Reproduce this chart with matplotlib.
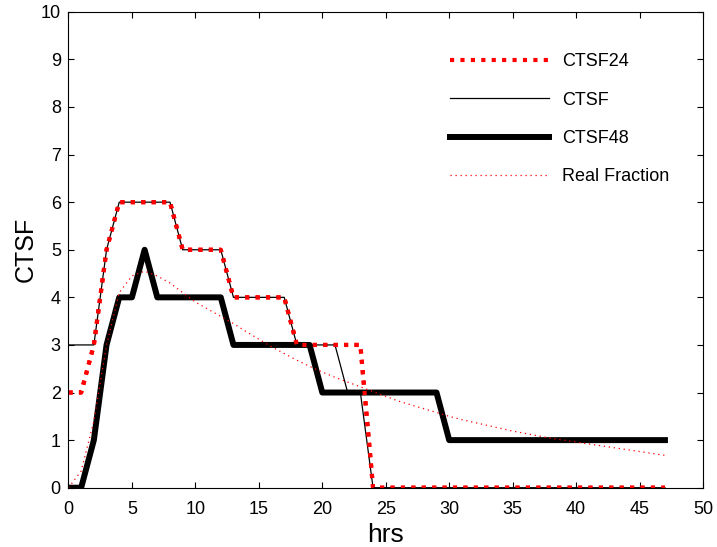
import matplotlib
matplotlib.use("Agg")
import matplotlib.pyplot as plt
import numpy as np

plt.rcParams['font.family'] = ['Liberation Sans', 'DejaVu Sans']

hrs = np.arange(0, 48)

ctsf24 = [2, 2, 3, 5, 6, 6, 6, 6, 6, 5, 5, 5, 5, 4, 4, 4, 4, 4, 3, 3,
          3, 3, 3, 3] + [0] * 24
ctsf = [3, 3, 3, 5, 6, 6, 6, 6, 6, 5, 5, 5, 5, 4, 4, 4, 4, 4, 3, 3,
        3, 3, 2, 2] + [0] * 24
ctsf48 = [0, 0, 1, 3, 4, 4, 5, 4, 4, 4, 4, 4, 4, 3, 3, 3, 3, 3, 3, 3,
          2, 2, 2, 2, 2, 2, 2, 2, 2, 2] + [1] * 18
real_fraction = [0.0, 0.35, 1.4, 3.0, 4.1, 4.45, 4.55, 4.45, 4.3, 4.1,
                 3.9, 3.75, 3.6, 3.45, 3.28, 3.12, 2.96, 2.82, 2.68, 2.55,
                 2.43, 2.32, 2.22, 2.12, 2.02, 1.92, 1.82, 1.74, 1.66, 1.58,
                 1.50, 1.43, 1.37, 1.31, 1.25, 1.19, 1.14, 1.09, 1.04, 1.00,
                 0.96, 0.92, 0.88, 0.84, 0.80, 0.76, 0.72, 0.68]

fig = plt.figure(figsize=(7.17, 5.47), dpi=100)
ax = fig.add_axes([0.0955, 0.1084, 0.885, 0.870])

ax.plot(hrs, ctsf24, color='red', lw=3, linestyle=(0, (1, 1.5)), label='CTSF24')
ax.plot(hrs, ctsf, color='black', lw=0.9, label='CTSF')
ax.plot(hrs, ctsf48, color='black', lw=4.3, label='CTSF48')
ax.plot(hrs, real_fraction, color='red', lw=0.9, linestyle=(0, (1, 3)),
        label='Real Fraction')
# redraw red dotted on top of black lines
ax.plot(hrs, ctsf24, color='red', lw=3, linestyle=(0, (1, 1.5)))

ax.set_xlim(0, 50)
ax.set_ylim(0, 10)
ax.set_xticks(range(0, 51, 5))
ax.set_yticks(range(0, 11))
ax.tick_params(direction='in', length=4.5, top=True, right=True,
               labelsize=13, width=0.8)
ax.tick_params(axis='x', pad=9.5)
ax.tick_params(axis='y', pad=5.5)
for s in ax.spines.values():
    s.set_linewidth(0.8)

ax.set_xlabel('hrs', fontsize=19, labelpad=3.5)
ax.set_ylabel('CTSF', fontsize=18, labelpad=2)

ax.legend(loc='upper left', frameon=False, fontsize=13, handlelength=5.5,
          labelspacing=1.18, handletextpad=0.72, borderpad=0,
          borderaxespad=0, bbox_to_anchor=(0.601, 0.913))

fig.savefig('out.png', dpi=100)
